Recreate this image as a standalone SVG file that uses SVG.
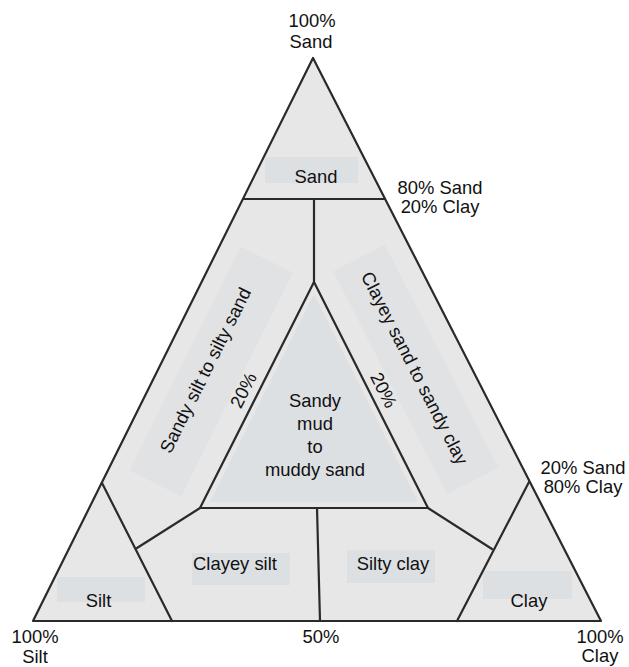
<svg xmlns="http://www.w3.org/2000/svg" width="629" height="667" viewBox="0 0 629 667">
<style>
.t{font-family:"Liberation Sans",Arial,sans-serif;font-size:18.4px;fill:#111;text-anchor:middle}
.box{fill:#dde0e3}
.band{fill:#e0e2e4}
.ln{stroke:#2a2a2a;stroke-width:2.2;fill:none;stroke-linecap:round;stroke-linejoin:round}
</style>
<rect width="629" height="667" fill="#ffffff"/>
<g id="triangle">
<polygon points="313,58 601,621 33,621" fill="#e7e7e7"/>
</g>
<g id="sand">
<rect class="box" x="265" y="157" width="93" height="26"/>
<text class="t" x="316" y="183">Sand</text>
</g>
<g id="sandy-silt">
<rect class="band" x="-125" y="-30" width="250" height="58" transform="translate(212,372) rotate(-63.5)"/>
<text class="t" transform="translate(211,373) rotate(-63.5)">Sandy silt to silty sand</text>
</g>
<g id="clayey-sand">
<rect class="band" x="-125" y="-30" width="250" height="58" transform="translate(415,370) rotate(63)"/>
<text class="t" transform="translate(409,371) rotate(63)">Clayey sand to sandy clay</text>
</g>
<g id="sandy-mud">
<polygon points="314,294 418,502 210,502" fill="#dde0e3"/>
<text class="t" x="315" y="407">Sandy</text>
<text class="t" x="315" y="430">mud</text>
<text class="t" x="315" y="453">to</text>
<text class="t" x="315" y="476">muddy sand</text>
</g>
<g id="label-20-left">
<text class="t" transform="translate(249,393) rotate(-63.2)">20%</text>
</g>
<g id="label-20-right">
<text class="t" transform="translate(378,393) rotate(63.2)">20%</text>
</g>
<g id="silt">
<rect class="box" x="57" y="577" width="88" height="25"/>
<text class="t" x="98.5" y="607">Silt</text>
</g>
<g id="clayey-silt">
<rect class="box" x="192" y="553" width="98" height="32"/>
<text class="t" x="235" y="570">Clayey silt</text>
</g>
<g id="silty-clay">
<rect class="box" x="347" y="550" width="88" height="33"/>
<text class="t" x="393" y="570">Silty clay</text>
</g>
<g id="clay">
<rect class="box" x="483" y="571" width="89" height="28"/>
<text class="t" x="529" y="607">Clay</text>
</g>
<g id="connectors">
<polygon class="ln" points="313,58 601,621 33,621" stroke-width="2.6"/>
<line class="ln" x1="243" y1="199" x2="385" y2="199"/>
<line class="ln" x1="314" y1="199" x2="314" y2="282"/>
<polygon class="ln" points="314,282 428,508 200,508"/>
<line class="ln" x1="200" y1="508" x2="137" y2="548"/>
<line class="ln" x1="102" y1="483" x2="172" y2="621"/>
<line class="ln" x1="428" y1="508" x2="492" y2="549"/>
<line class="ln" x1="529" y1="482" x2="457" y2="621"/>
<line class="ln" x1="317" y1="508" x2="320" y2="621"/>
</g>
<g id="axis-labels">
<text class="t" x="312" y="27">100%</text>
<text class="t" x="311" y="48">Sand</text>
<text class="t" x="440" y="194">80% Sand</text>
<text class="t" x="440" y="213">20% Clay</text>
<text class="t" x="583" y="474">20% Sand</text>
<text class="t" x="583" y="493">80% Clay</text>
<text class="t" x="35" y="643">100%</text>
<text class="t" x="35" y="663">Silt</text>
<text class="t" x="321" y="643">50%</text>
<text class="t" x="600" y="643">100%</text>
<text class="t" x="600" y="662">Clay</text>
</g>
</svg>
